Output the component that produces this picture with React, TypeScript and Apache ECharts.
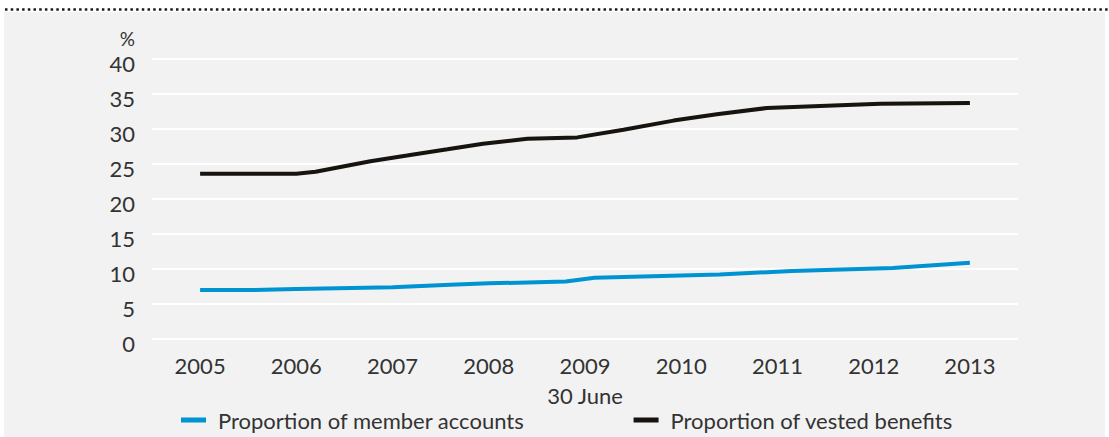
import React, { useEffect, useRef } from "react";
import * as echarts from "echarts";

const years = ["2005", "2006", "2007", "2008", "2009", "2010", "2011", "2012", "2013"];
const yTicks = { min: 0, max: 40, interval: 5 };

// [time (fraction of year), value %]
const memberAccounts: [number, number][] = [
  [2005.0, 7.0],
  [2005.55, 7.0],
  [2006.0, 7.15],
  [2007.0, 7.4],
  [2007.6, 7.75],
  [2008.0, 7.95],
  [2008.8, 8.2],
  [2009.1, 8.75],
  [2010.4, 9.2],
  [2011.15, 9.73],
  [2012.2, 10.15],
  [2013.0, 10.9],
];

const vestedBenefits: [number, number][] = [
  [2005.0, 23.6],
  [2006.0, 23.6],
  [2006.2, 23.9],
  [2006.77, 25.4],
  [2007.15, 26.2],
  [2007.57, 27.1],
  [2007.94, 27.9],
  [2008.4, 28.6],
  [2008.92, 28.8],
  [2009.4, 29.9],
  [2009.92, 31.2],
  [2010.37, 32.1],
  [2010.89, 33.0],
  [2012.07, 33.6],
  [2013.0, 33.7],
];

const seriesNames = ["Proportion of member accounts", "Proportion of vested benefits"];
const colors = ["#0093d2", "#17130e"];
const FONT = "Lato";
const TEXT = "#333333";
const FS = 22;

export default function App() {
  const ref = useRef<HTMLDivElement>(null);
  useEffect(() => {
    if (!ref.current) return;
    const chart = echarts.init(ref.current, null, { renderer: "svg" });
    chart.setOption({
      animation: false,
      backgroundColor: "#ffffff",
      textStyle: { fontFamily: FONT, color: TEXT },
      graphic: [
        {
          type: "rect",
          z: -10,
          silent: true,
          shape: { x: 4, y: 12, width: 1101, height: 425 },
          style: { fill: "#f2f2f2" },
        },
        {
          type: "line",
          silent: true,
          shape: { x1: 5, y1: 9.5, x2: 1109, y2: 9.5 },
          style: { stroke: "#1a1a1a", lineWidth: 2.5, lineDash: [2.5, 3.2] },
        },
        {
          type: "text",
          x: 135,
          y: 38,
          style: {
            text: "%",
            fontFamily: FONT,
            fontSize: 19,
            lineHeight: 14,
            fill: TEXT,
            align: "right",
            verticalAlign: "middle",
          },
        },
      ],
      grid: { left: 152, right: 91, top: 59, bottom: 98, containLabel: false },
      legend: {
        left: 176,
        top: 404,
        itemGap: 109,
        itemWidth: 25,
        itemHeight: 5,
        icon: "rect",
        textStyle: { fontFamily: FONT, fontSize: FS, color: TEXT, padding: [0, 0, 0, 7] },
        data: seriesNames,
      },
      xAxis: [
        {
          type: "category",
          data: years,
          boundaryGap: true,
          axisLine: { show: false },
          axisTick: { show: false },
          splitLine: { show: false },
          axisLabel: { fontFamily: FONT, fontSize: FS, color: TEXT, margin: 15 },
          name: "30 June",
          nameLocation: "middle",
          nameGap: 45,
          nameTextStyle: { fontFamily: FONT, fontSize: FS, color: TEXT },
        },
        {
          type: "value",
          min: 2004.5,
          max: 2013.5,
          show: false,
        },
      ],
      yAxis: {
        type: "value",
        min: yTicks.min,
        max: yTicks.max,
        interval: yTicks.interval,
        axisLine: { show: false },
        axisTick: { show: false },
        axisLabel: {
          fontFamily: FONT,
          fontSize: FS,
          lineHeight: 8,
          verticalAlign: "top",
          color: TEXT,
          margin: 17,
        },
        splitLine: { lineStyle: { color: "#ffffff", width: 2 } },
      },
      series: [
        {
          name: seriesNames[0],
          type: "line",
          xAxisIndex: 1,
          data: memberAccounts,
          symbol: "none",
          color: colors[0],
          lineStyle: { color: colors[0], width: 4 },
        },
        {
          name: seriesNames[1],
          type: "line",
          xAxisIndex: 1,
          data: vestedBenefits,
          symbol: "none",
          color: colors[1],
          lineStyle: { color: colors[1], width: 4 },
        },
      ],
    });
    return () => chart.dispose();
  }, []);
  return (
    <div
      ref={ref}
      style={{ position: "fixed", left: 0, top: 0, width: 1109, height: 437 }}
    />
  );
}
